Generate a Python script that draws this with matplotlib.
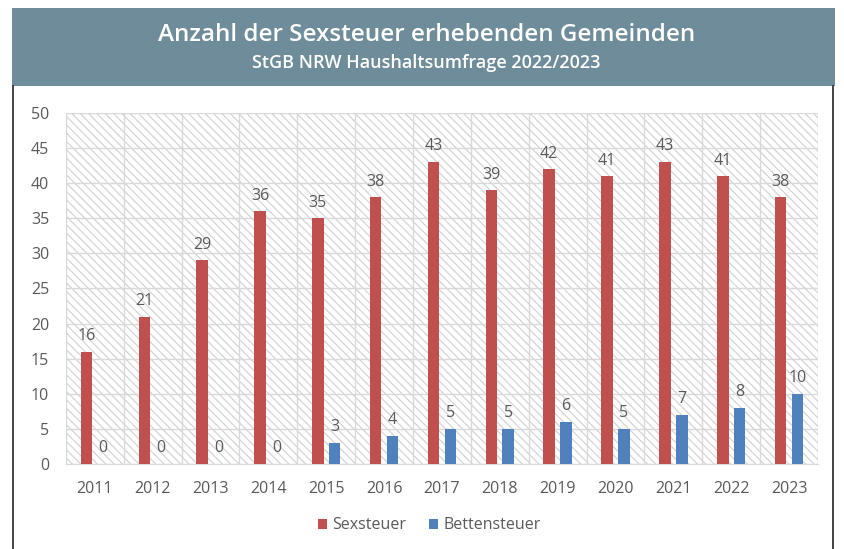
import matplotlib.pyplot as plt
import numpy as np
from matplotlib.patches import Rectangle

years = ["2011", "2012", "2013", "2014", "2015", "2016", "2017",
         "2018", "2019", "2020", "2021", "2022", "2023"]
sexsteuer = [16, 21, 29, 36, 35, 38, 43, 39, 42, 41, 43, 41, 38]
bettensteuer = [0, 0, 0, 0, 3, 4, 5, 5, 6, 5, 7, 8, 10]

C_RED = "#C0504D"
C_BLUE = "#4F81BD"
C_HEAD = "#6E8C99"
C_TEXT = "#595959"

plt.rcParams["font.family"] = ["Open Sans", "DejaVu Sans"]
plt.rcParams["hatch.linewidth"] = 0.8
plt.rcParams["hatch.color"] = "#D0D0D0"

fig = plt.figure(figsize=(8.45, 5.49), dpi=100)

# header band
fig.patches.append(Rectangle((0.0142, 0.843), 0.974, 0.142, transform=fig.transFigure,
                             facecolor=C_HEAD, edgecolor="none", zorder=0))
fig.text(0.505, 0.937, "Anzahl der Sexsteuer erhebenden Gemeinden", ha="center", va="center",
         color="white", fontsize=17.5, fontweight="semibold")
fig.text(0.505, 0.885, "StGB NRW Haushaltsumfrage 2022/2023", ha="center", va="center",
         color="white", fontsize=13, fontweight="semibold")

# frame lines of the chart box
fig.add_artist(plt.Line2D([0.0148, 0.0148], [0.0, 0.843], transform=fig.transFigure,
                          color="#222222", lw=1.2))
fig.add_artist(plt.Line2D([0.9858, 0.9858], [0.0, 0.843], transform=fig.transFigure,
                          color="#222222", lw=1.2))

ax = fig.add_axes([0.078, 0.155, 0.890, 0.639])

x = np.arange(len(years))
w = 0.2
off = 0.145

ax.add_patch(Rectangle((0, 0), 1, 1, transform=ax.transAxes, facecolor="white",
                       edgecolor="#D0D0D0", hatch="\\\\\\\\", lw=0, zorder=0))

ax.bar(x - off, sexsteuer, width=w, color=C_RED, label="Sexsteuer", zorder=3)
ax.bar(x + off, bettensteuer, width=w, color=C_BLUE, label="Bettensteuer", zorder=3)

for xi, v in zip(x, sexsteuer):
    ax.text(xi - off, v + 1.1, str(v), ha="center", va="bottom", fontsize=11.5, color=C_TEXT)
for xi, v in zip(x, bettensteuer):
    ax.text(xi + off, v + 1.1, str(v), ha="center", va="bottom", fontsize=11.5, color=C_TEXT)

ax.set_xlim(-0.5, len(years) - 0.5)
ax.set_ylim(0, 50)
ax.set_yticks(range(0, 51, 5))
ax.set_xticks(x)
ax.set_xticklabels(years)
ax.set_xticks(np.arange(-0.5, len(years), 1), minor=True)
ax.grid(axis="y", color="#D9D9D9", lw=1, zorder=1)
ax.grid(axis="x", which="minor", color="#D9D9D9", lw=1, zorder=1)
ax.set_axisbelow(True)
ax.tick_params(axis="both", which="both", length=0, labelsize=11.5, colors=C_TEXT, pad=12)
ax.tick_params(axis="y", pad=12)
for s in ["top", "right", "left"]:
    ax.spines[s].set_visible(False)
ax.spines["bottom"].set_color("#D9D9D9")

ax.legend(loc="center", bbox_to_anchor=(0.483, -0.175), ncol=2, frameon=False,
          fontsize=11.5, handlelength=0.6, handleheight=0.6, columnspacing=1.4,
          handletextpad=0.3, labelcolor=C_TEXT)

fig.savefig("out.png", dpi=100)
